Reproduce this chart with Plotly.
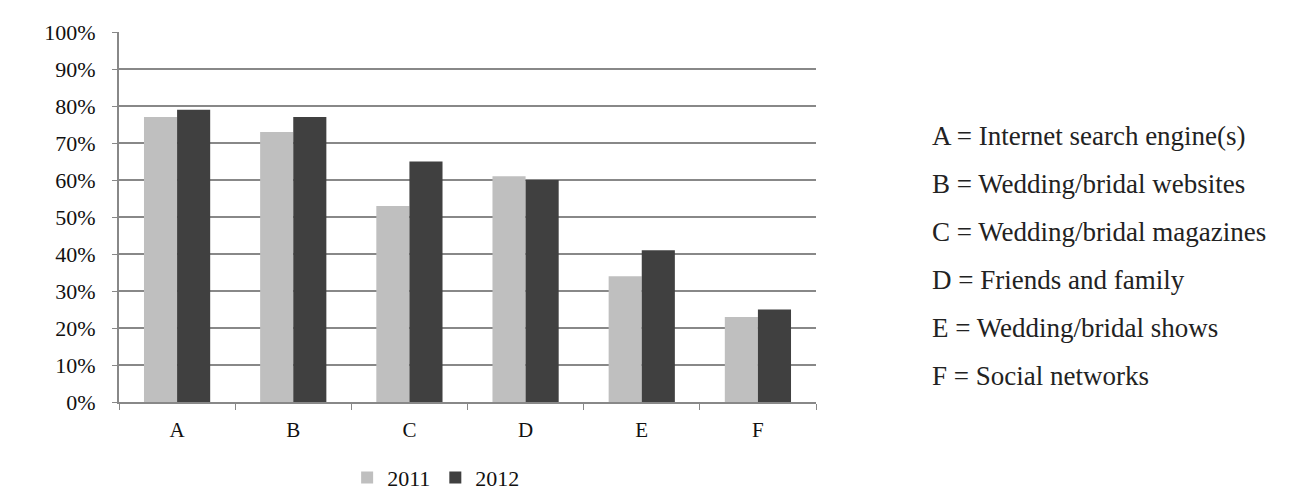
import plotly.graph_objects as go

categories = ["A", "B", "C", "D", "E", "F"]
values_2011 = [0.77, 0.73, 0.53, 0.61, 0.34, 0.23]
values_2012 = [0.79, 0.77, 0.65, 0.60, 0.41, 0.25]
key_lines = [
    "A = Internet search engine(s)",
    "B = Wedding/bridal websites",
    "C = Wedding/bridal magazines",
    "D = Friends and family",
    "E = Wedding/bridal shows",
    "F = Social networks",
]

FONT = "Liberation Serif"
AXIS_GREY = "#888888"

fig = go.Figure()
fig.add_trace(go.Bar(x=categories, y=values_2011, name="2011",
                     marker=dict(color="#bfbfbf", line=dict(width=0))))
fig.add_trace(go.Bar(x=categories, y=values_2012, name="2012",
                     marker=dict(color="#404040", line=dict(width=0))))

# key text to the right of the plot
for i, txt in enumerate(key_lines):
    fig.add_annotation(text=txt, xref="paper", yref="paper",
                       x=1.163, y=0.718 - i * 0.1293,
                       xanchor="left", yanchor="middle", showarrow=False,
                       font=dict(family=FONT, size=27, color="#222222"))

fig.update_layout(
    width=1297, height=503,
    margin=dict(l=111, r=489, t=21, b=109),
    paper_bgcolor="white", plot_bgcolor="white",
    barmode="group", bargap=0.43, bargroupgap=0,
    font=dict(family=FONT, size=20, color="#111111"),
    legend=dict(orientation="h", x=0.455, xanchor="center",
                yref="container", y=0.066, yanchor="middle",
                font=dict(size=22), itemwidth=30, traceorder="normal"),
    xaxis=dict(showline=True, linecolor=AXIS_GREY, linewidth=2,
               ticks="outside", tickson="boundaries", ticklen=6,
               tickcolor=AXIS_GREY, tickwidth=1, showgrid=False,
               tickfont=dict(size=21), ticklabelstandoff=8),
    yaxis=dict(range=[0, 1], dtick=0.1, tickformat=".0%",
               showline=True, linecolor=AXIS_GREY, linewidth=2,
               ticks="outside", ticklen=5, tickcolor=AXIS_GREY,
               gridcolor=AXIS_GREY, gridwidth=2, zeroline=False,
               tickfont=dict(size=22), ticklabelstandoff=12),
)

fig.write_html("out.html")
